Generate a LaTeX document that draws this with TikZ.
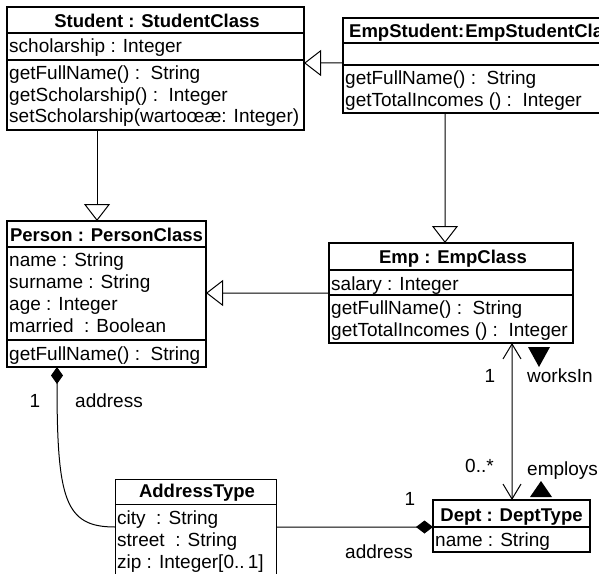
\documentclass[tikz,border=0pt]{standalone}
\usepackage{fontspec}
\setmainfont{Liberation Sans}
\usetikzlibrary{arrows.meta}
\begin{document}
\begin{tikzpicture}[x=1bp,y=-1bp,
  box/.style={draw, line width=1.6bp, anchor=north west, inner sep=0pt, outer sep=0pt},
  thinbox/.style={box, line width=1bp},
  divider/.style={line width=1.6bp},
  thindivider/.style={line width=1bp},
  tx/.style={anchor=base west, inner sep=0pt, font=\fontsize{19bp}{21bp}\selectfont},
  lbl/.style={tx},
  hd/.style={anchor=base, inner sep=0pt, font=\fontsize{18.5bp}{21bp}\selectfont\bfseries},
  hdl/.style={anchor=base west, inner sep=0pt, font=\fontsize{18.5bp}{21bp}\selectfont\bfseries},
  ln/.style={line width=1bp},
  gen/.style={ln, -{Triangle[open, length=17bp, width=26bp]}},
  assoc/.style={ln, {Straight Barb[length=15bp, width=18bp]}-{Straight Barb[length=15bp, width=18bp]}},
  compstart/.style={ln, {Diamond[length=17bp, width=12bp]}-},
  compend/.style={ln, -{Diamond[length=17bp, width=13bp]}},
  dirmark/.style={fill=black}
]
\useasboundingbox (0,0) rectangle (599,574);
\clip (0,0) rectangle (599,574);

% ---------- boxes ----------
\node[box, minimum width=297bp, minimum height=123bp] (student) at (7,7) {};
\draw[divider] (7,33) -- (304,33);
\draw[divider] (7,60) -- (304,60);
\node[hd] (studenth) at (157,28) {Student : StudentClass};
\node[tx] (s1) at (9,53) {scholarship : Integer};
\node[tx] (s2) at (9,80) {getFullName() :\ \ String};
\node[tx] (s3) at (9,101.5) {getScholarship() :\ \ Integer};
\node[tx] (s4) at (9,123) {setScholarship(wartoœæ: Integer)};

\node[box, minimum width=300bp, minimum height=95bp] (empst) at (343,18) {};
\draw[divider] (343,43) -- (643,43);
\draw[divider] (343,65) -- (643,65);
\node[hdl] (empsth) at (349,38) {EmpStudent:\kern1bp EmpStudentClass};
\node[tx] (e1) at (345,85) {getFullName() :\ \ String};
\node[tx] (e2) at (345,107) {getTotalIncomes () :\ \ Integer};

\node[box, minimum width=199bp, minimum height=146bp] (person) at (7,221) {};
\draw[divider] (7,247) -- (206,247);
\draw[divider] (7,340) -- (206,340);
\node[hd] (personh) at (106.5,241) {Person : PersonClass};
\node[tx] (p1) at (9,266) {name : String};
\node[tx] (p2) at (9,288) {surname : String};
\node[tx] (p3) at (9,310) {age : Integer};
\node[tx] (p4) at (9,332) {married\ \ : Boolean};
\node[tx] (p5) at (9,360) {getFullName() :\ \ String};

\node[box, minimum width=244bp, minimum height=100bp] (emp) at (329,243) {};
\draw[divider] (329,270) -- (573,270);
\draw[divider] (329,295) -- (573,295);
\node[hd] (emph) at (453,263) {Emp : EmpClass};
\node[tx] (m1) at (331,290) {salary : Integer};
\node[tx] (m2) at (331,314) {getFullName() :\ \ String};
\node[tx] (m3) at (331,336) {getTotalIncomes () :\ \ Integer};

\node[box, minimum width=157bp, minimum height=52bp] (dept) at (433,500) {};
\draw[divider] (433,527) -- (590,527);
\node[hd] (depth) at (511.5,521) {Dept : DeptType};
\node[tx] (d1) at (435,546) {name : String};

\node[thinbox, minimum width=161bp, minimum height=120bp] (addr) at (115,479) {};
\draw[thindivider] (115,504) -- (276,504);
\node[hd] (addrh) at (197,497) {AddressType};
\node[tx] (a1) at (117,524) {city\ \ : String};
\node[tx] (a2) at (117,546) {street\ \ : String};
\node[tx] (a3) at (117,568) {zip : Integer[0..\,1]};

% ---------- connectors ----------
\draw[gen] ([xshift=90bp]student.south west) -- ([xshift=90bp]person.north west);
\draw[gen] ([yshift=-45bp]empst.north west) -- ([yshift=-56bp]student.north east);
\draw[gen] ([xshift=102bp]empst.south west) -- ([xshift=116bp]emp.north west);
\draw[gen] ([yshift=-50bp]emp.north west) -- ([yshift=-72bp]person.north east);
\draw[assoc] ([xshift=183bp]emp.south west) -- ([xshift=79bp]dept.north west);
\draw[compstart] ([xshift=50bp]person.south west) .. controls +(0,133) and +(-50,0) .. ([yshift=-48bp]addr.north west);
\draw[compend] ([yshift=-48bp]addr.north east) -- ([yshift=-27bp]dept.north west);

% ---------- labels ----------
\node[lbl, anchor=base] (l1) at (35,407) {1};
\node[lbl] (l2) at (75,407) {address};
\node[lbl, anchor=base] (l3) at (490,382) {1};
\node[lbl] (l4) at (527,382) {worksIn};
\node[lbl] (l5) at (465,472) {0..*};
\node[lbl] (l6) at (527,475) {employs};
\node[lbl, anchor=base] (l7) at (410,505) {1};
\node[lbl] (l8) at (345,558) {address};

\fill[dirmark] (528,347) -- (550,347) -- (539,367) -- cycle;
\fill[dirmark] (530,497) -- (552,497) -- (541,481) -- cycle;
\end{tikzpicture}
\end{document}
